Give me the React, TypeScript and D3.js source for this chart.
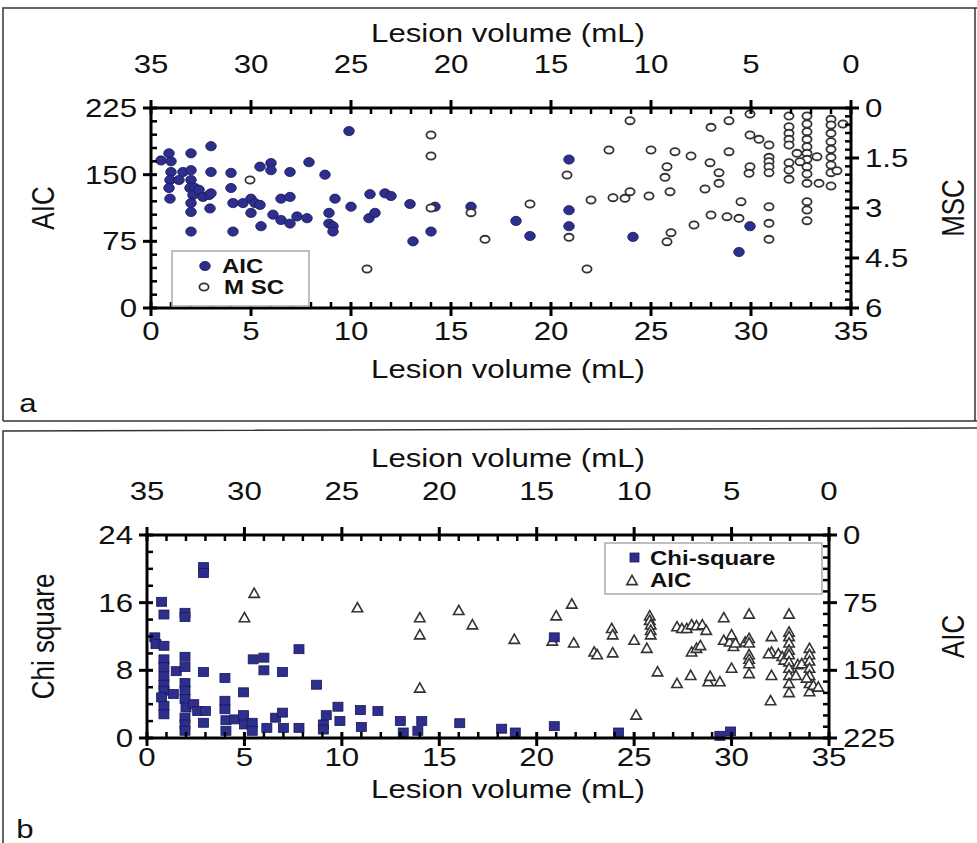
import React from "react";
import * as d3 from "d3";

// ---------- DATA ----------
const xTickVals = [0, 5, 10, 15, 20, 25, 30, 35];
const aTickLeft = [0, 75, 150, 225];
const aTickRight = [0, 1.5, 3, 4.5, 6];
const bTickLeft = [0, 8, 16, 24];
const bTickRight = [0, 75, 150, 225];

// Panel a: AIC (filled circles) [lesion volume, AIC]
const aAIC: [number, number][] = [
  [0.5,166],[0.9,174],[1.0,165],[1.0,153],[0.95,144],[0.9,135],[0.95,123],[1.4,144],[1.6,153],[2.0,174],
  [2.0,155],[2.0,144],[1.95,135],[2.2,135],[2.1,127],[2.0,118],[2.0,108],[2.0,86],[2.4,133],[2.6,125],
  [2.9,127],[3.0,182],[3.0,153],[3.0,129],[2.95,112],[4.0,152],[4.0,135],[4.1,118],[4.1,86],[4.6,118],
  [5.0,123],[5.0,107],[5.2,118],[5.45,116],[5.5,92],[5.45,159],[6.0,163],[6.0,155],[6.1,105],[6.5,123],
  [6.5,99],[6.95,125],[6.95,95],[6.95,153],[7.3,103],[7.8,101],[7.9,164],[8.7,150],[9.2,123],[8.9,107],
  [8.9,95],[9.1,92],[9.1,86],[9.9,199],[10.0,114],[10.9,101],[10.95,128],[11.2,107],[11.7,129],[12.0,126],
  [12.95,117],[14.2,114],[14.0,86],[13.1,75],[16.0,114],[18.25,98],[18.95,81],[20.9,167],[20.9,110],[20.9,92],
  [24.1,80],[29.95,92],[29.4,63],
];

// Panel a: MSC (open circles) [lesion volume, MSC]
const aMSC: [number, number][] = [
  [4.95,2.16],[10.8,4.83],[14.0,0.81],[14.0,1.44],[14.0,3.0],[16.0,3.14],[16.7,3.94],[18.95,2.88],[20.8,2.01],[20.9,3.88],
  [21.8,4.83],[22.0,2.76],[22.9,1.26],[23.1,2.69],[23.7,2.71],[23.95,2.51],[24.9,2.64],[23.95,0.38],[25.0,1.26],[25.8,1.76],
  [25.7,2.08],[25.95,2.51],[26.2,1.31],[27.0,1.44],[28.0,0.58],[27.95,1.64],[28.4,1.94],[28.4,2.26],[27.7,2.43],[28.9,0.38],
  [28.9,1.31],[29.95,0.18],[29.95,0.81],[30.4,0.94],[30.9,1.11],[29.95,1.76],[29.9,1.96],[29.5,2.81],[29.4,3.31],[28.8,3.26],
  [28.0,3.21],[27.15,3.51],[26.0,3.74],[25.8,4.01],[30.9,1.48],[30.9,1.61],[30.9,1.76],[30.9,1.94],[30.9,2.96],[30.9,3.46],
  [30.9,3.94],[31.9,0.24],[31.9,0.56],[31.9,0.76],[31.9,0.94],[31.9,1.11],[31.9,1.64],[31.9,1.86],[31.9,2.14],[32.3,1.36],
  [32.8,0.24],[32.8,0.48],[32.8,0.71],[32.8,0.94],[32.8,1.16],[32.8,1.36],[32.8,1.54],[32.8,1.76],[32.8,1.98],[32.8,2.26],
  [32.8,2.81],[32.8,3.06],[32.8,3.38],[32.45,1.61],[33.3,1.46],[33.4,2.26],[34.0,0.34],[34.0,0.51],[34.0,0.76],[34.0,1.01],
  [34.0,1.24],[34.0,1.48],[34.0,1.71],[34.0,1.94],[34.0,2.34],[34.3,1.88],[34.6,0.48],
];

// Panel b: Chi-square (filled squares) [lesion volume, chi square]
const bChi: [number, number][] = [
  [2.9,20.2],[2.9,19.5],[0.75,16.1],[0.87,14.6],[1.95,14.8],[1.95,14.3],[0.4,11.9],[0.46,11.1],[0.87,10.9],[0.87,9.3],
  [0.87,8.4],[0.87,7.3],[0.87,6.3],[0.87,5.6],[0.75,4.8],[0.87,3.8],[0.87,2.8],[1.35,5.2],[1.5,7.9],[1.95,9.6],
  [1.95,8.4],[1.95,6.5],[1.95,5.6],[1.95,4.6],[2.0,3.6],[1.95,2.4],[1.95,1.6],[1.95,0.85],[2.4,4.0],[2.6,3.2],
  [3.0,3.2],[2.9,1.8],[2.9,7.8],[4.0,7.1],[4.0,4.4],[4.0,3.4],[4.05,2.1],[4.05,0.85],[4.5,2.2],[4.95,5.4],
  [4.95,2.7],[5.0,1.6],[5.4,1.8],[5.4,0.85],[5.45,9.3],[6.0,9.5],[6.0,8.0],[6.15,1.2],[6.6,2.4],[6.95,7.8],
  [6.95,3.0],[7.0,1.2],[7.8,10.5],[7.8,1.2],[8.7,6.3],[9.05,1.6],[9.05,1.0],[9.2,2.7],[9.8,3.7],[9.9,2.0],
  [10.95,3.3],[11.0,1.3],[11.85,3.2],[13.0,2.0],[13.15,0.65],[13.9,0.85],[14.1,2.0],[16.05,1.75],[18.2,1.1],[18.9,0.65],
  [20.9,1.4],[20.9,11.9],[24.2,0.65],[29.4,0.26],[29.95,0.77],
];

// Panel b: AIC (open triangles) [lesion volume, AIC]
const bAIC: [number, number][] = [
  [5.5,64],[5.0,91],[10.8,80],[14.0,91],[14.0,110],[14.0,169],[16.0,83],[16.7,99],[18.85,115],[21.0,89],
  [21.8,76],[20.8,117],[21.9,119],[22.95,129],[23.1,132],[23.9,130],[23.85,103],[23.9,110],[25.0,116],[25.1,199],
  [25.65,125],[25.8,89],[25.8,94],[25.85,99],[25.85,105],[25.85,110],[26.2,151],[27.2,164],[27.2,101],[27.45,103],
  [27.7,103],[27.95,99],[28.2,100],[28.5,99],[28.7,105],[27.9,155],[27.95,129],[28.2,125],[28.4,122],[28.8,162],
  [28.9,156],[29.4,162],[29.6,91],[29.6,116],[29.9,118],[30.0,110],[30.1,123],[30.2,119],[30.0,147],[30.7,118],
  [30.9,114],[30.9,119],[30.9,132],[30.9,137],[30.9,142],[30.9,153],[30.9,87],[32.05,112],[32.05,129],[32.05,155],
  [32.0,183],[31.9,131],[32.4,131],[32.6,134],[32.7,138],[32.95,87],[32.95,107],[32.95,112],[32.95,119],[32.95,127],
  [32.95,132],[32.95,140],[32.95,147],[32.95,155],[32.95,164],[32.95,174],[33.3,155],[33.4,143],[33.6,142],[34.0,125],
  [34.0,132],[34.0,139],[34.0,147],[34.0,155],[34.0,164],[34.0,173],[34.2,166],[34.45,168],[33.85,158],
];

// ---------- STYLE ----------
const FONT = "'Liberation Sans', Arial, Helvetica, sans-serif";
const SX = 1.2;
const NAVY = "#2e2e8e";
const NAVY_DARK = "#1a1a55";

function Txt(props: {
  x: number; y: number; size?: number; anchor?: string; rot?: number; weight?: string | number; children: any; fill?: string;
}) {
  const { x, y, size = 26, anchor = "middle", rot = 0, weight = "normal", children, fill = "#111" } = props;
  return (
    <text
      transform={`translate(${x},${y}) scale(${SX},1) rotate(${rot})`}
      textAnchor={anchor}
      fontSize={size}
      fontFamily={FONT}
      fontWeight={weight}
      fill={fill}
    >
      {children}
    </text>
  );
}

function range(a: number, b: number, step: number) {
  const out: number[] = [];
  for (let v = a; v <= b + 1e-9; v += step) out.push(+v.toFixed(4));
  return out;
}

function Frame(props: {
  left: number; right: number; top: number; bottom: number;
  x: d3.ScaleLinear<number, number>; xTop: d3.ScaleLinear<number, number>;
  yL: d3.ScaleLinear<number, number>; yR: d3.ScaleLinear<number, number>;
  yLTicks: number[]; yLMinor: number; yRTicks: number[]; yRMinor: number; yRFmt: (v: number) => string;
  bottomLabelOffset: number;
}) {
  const { left, right, top, bottom, x, xTop, yL, yR, yLTicks, yLMinor, yRTicks, yRMinor, yRFmt, bottomLabelOffset } = props;
  const MO = 8, MI = 6, mi = 6;
  const els: any[] = [];
  const minorX = range(0, 35, 1).filter((v) => v % 5 !== 0);
  minorX.forEach((v, i) => {
    const px = x(v);
    els.push(<line key={"mxb" + i} x1={px} x2={px} y1={bottom} y2={bottom - mi} stroke="#000" strokeWidth={2.5} />);
    els.push(<line key={"mxt" + i} x1={px} x2={px} y1={top} y2={top + mi} stroke="#000" strokeWidth={2.5} />);
  });
  xTickVals.forEach((v, i) => {
    const px = x(v);
    els.push(<line key={"Mxb" + i} x1={px} x2={px} y1={bottom - MI} y2={bottom + MO} stroke="#000" strokeWidth={3} />);
    const pt = xTop(v);
    els.push(<line key={"Mxt" + i} x1={pt} x2={pt} y1={top + MI} y2={top - MO} stroke="#000" strokeWidth={3} />);
  });
  const dL = yL.domain();
  range(dL[0], dL[1], yLMinor).forEach((v, i) => {
    if (yLTicks.some((t) => Math.abs(t - v) < 1e-6)) return;
    const py = yL(v);
    els.push(<line key={"myl" + i} x1={left} x2={left + mi} y1={py} y2={py} stroke="#000" strokeWidth={2.5} />);
  });
  yLTicks.forEach((v, i) => {
    const py = yL(v);
    els.push(<line key={"Myl" + i} x1={left - MO} x2={left + MI} y1={py} y2={py} stroke="#000" strokeWidth={3} />);
  });
  const dR = yR.domain();
  range(dR[0], dR[1], yRMinor).forEach((v, i) => {
    if (yRTicks.some((t) => Math.abs(t - v) < 1e-6)) return;
    const py = yR(v);
    els.push(<line key={"myr" + i} x1={right} x2={right - mi} y1={py} y2={py} stroke="#000" strokeWidth={2.5} />);
  });
  yRTicks.forEach((v, i) => {
    const py = yR(v);
    els.push(<line key={"Myr" + i} x1={right + MO} x2={right - MI} y1={py} y2={py} stroke="#000" strokeWidth={3} />);
  });
  // axis lines
  els.push(<line key="ab" x1={left - 1.5} x2={right + 1.5} y1={bottom} y2={bottom} stroke="#000" strokeWidth={3} />);
  els.push(<line key="at" x1={left - 1.5} x2={right + 1.5} y1={top} y2={top} stroke="#000" strokeWidth={3} />);
  els.push(<line key="al" x1={left} x2={left} y1={top} y2={bottom} stroke="#000" strokeWidth={3} />);
  els.push(<line key="ar" x1={right} x2={right} y1={top} y2={bottom} stroke="#000" strokeWidth={3} />);
  // labels
  xTickVals.forEach((v, i) => {
    els.push(<Txt key={"lb" + i} x={x(v)} y={bottom + bottomLabelOffset}>{v}</Txt>);
    els.push(<Txt key={"lt" + i} x={xTop(v)} y={top - 35}>{v}</Txt>);
  });
  yLTicks.forEach((v, i) => {
    els.push(<Txt key={"ll" + i} x={left - 14} y={yL(v) + 9} anchor="end">{v}</Txt>);
  });
  yRTicks.forEach((v, i) => {
    els.push(<Txt key={"lr" + i} x={right + 14} y={yR(v) + 9} anchor="start">{yRFmt(v)}</Txt>);
  });
  return <g>{els}</g>;
}

function triPath(cx: number, cy: number) {
  const w = 5.2, h = 4.6;
  return `M${cx},${cy - h}L${cx + w},${cy + h}L${cx - w},${cy + h}Z`;
}

export default function App() {
  // Panel a geometry
  const aL = 151, aR = 851, aT = 108, aB = 308;
  const ax = d3.scaleLinear().domain([0, 35]).range([aL, aR]);
  const axTop = d3.scaleLinear().domain([35, 0]).range([aL, aR]);
  const ayL = d3.scaleLinear().domain([0, 225]).range([aB, aT]);
  const ayR = d3.scaleLinear().domain([0, 6]).range([aT, aB]);

  // Panel b geometry
  const bL = 147, bR = 829, bT = 535, bB = 738;
  const bx = d3.scaleLinear().domain([0, 35]).range([bL, bR]);
  const bxTop = d3.scaleLinear().domain([35, 0]).range([bL, bR]);
  const byL = d3.scaleLinear().domain([0, 24]).range([bB, bT]);
  const byR = d3.scaleLinear().domain([0, 225]).range([bT, bB]);

  return (
    <svg width={977} height={843} style={{ position: "absolute", left: 0, top: 0, background: "#fff" }}>
      <rect x={0} y={0} width={977} height={843} fill="#fff" />
      {/* outer frames */}
      <path d="M3,421 L3,8 L977,8" fill="none" stroke="#333" strokeWidth={1.5} />
      <line x1={3} x2={977} y1={421} y2={421} stroke="#333" strokeWidth={1.5} />
      <line x1={975} x2={975} y1={8} y2={421} stroke="#333" strokeWidth={1.5} />
      <path d="M3,843 L3,431 L977,428" fill="none" stroke="#333" strokeWidth={1.5} />

      {/* ----- Panel a ----- */}
      <Txt x={508} y={42}>Lesion volume (mL)</Txt>
      <Txt x={508} y={378}>Lesion volume (mL)</Txt>
      <Txt x={54} y={aT + 100} rot={-90}>AIC</Txt>
      <Txt x={964} y={aT + 100} rot={-90}>MSC</Txt>
      <Txt x={28} y={412} anchor="middle">a</Txt>

      {aAIC.map((d, i) => (
        <ellipse key={"aa" + i} cx={ax(d[0])} cy={ayL(d[1])} rx={5.3} ry={4.6} fill={NAVY} stroke={NAVY_DARK} strokeWidth={0.8} />
      ))}
      {aMSC.map((d, i) => (
        <ellipse key={"am" + i} cx={ax(d[0])} cy={ayR(d[1])} rx={4.6} ry={3.6} fill="#fff" stroke="#333" strokeWidth={1.8} />
      ))}

      <Frame left={aL} right={aR} top={aT} bottom={aB} x={ax} xTop={axTop} yL={ayL} yR={ayR}
        yLTicks={aTickLeft} yLMinor={15} yRTicks={aTickRight} yRMinor={0.25} yRFmt={(v) => String(v)}
        bottomLabelOffset={32} />

      {/* legend a */}
      <rect x={172} y={251} width={137} height={55} fill="#fff" stroke="#aaa" strokeWidth={1.5} />
      <ellipse cx={205} cy={266} rx={5.3} ry={4.6} fill={NAVY} stroke={NAVY_DARK} strokeWidth={0.8} />
      <Txt x={222} y={273} size={20} anchor="start" weight="bold">AIC</Txt>
      <ellipse cx={204} cy={287} rx={4.6} ry={3.6} fill="#fff" stroke="#333" strokeWidth={1.8} />
      <Txt x={224} y={294} size={20} anchor="start" weight="bold">M SC</Txt>

      {/* ----- Panel b ----- */}
      <Txt x={508} y={467}>Lesion volume (mL)</Txt>
      <Txt x={508} y={798}>Lesion volume (mL)</Txt>
      <Txt x={54} y={(bT + bB) / 2} rot={-90}>Chi square</Txt>
      <Txt x={964} y={(bT + bB) / 2} rot={-90}>AIC</Txt>
      <Txt x={25} y={838} anchor="middle">b</Txt>

      {bAIC.map((d, i) => (
        <path key={"ba" + i} d={triPath(bx(d[0]), byR(d[1]))} fill="#fff" stroke="#333" strokeWidth={1.6} />
      ))}
      {bChi.map((d, i) => (
        <rect key={"bc" + i} x={bx(d[0]) - 5} y={byL(d[1]) - 4.5} width={10} height={9} fill={NAVY} stroke={NAVY_DARK} strokeWidth={0.8} />
      ))}

      <Frame left={bL} right={bR} top={bT} bottom={bB} x={bx} xTop={bxTop} yL={byL} yR={byR}
        yLTicks={bTickLeft} yLMinor={2} yRTicks={bTickRight} yRMinor={12.5} yRFmt={(v) => String(v)}
        bottomLabelOffset={28} />

      {/* legend b */}
      <rect x={605} y={543} width={217} height={51} fill="#fff" stroke="#aaa" strokeWidth={1.5} />
      <rect x={630} y={553} width={9} height={9} fill={NAVY} stroke={NAVY_DARK} strokeWidth={0.8} />
      <Txt x={650} y={565} size={20} anchor="start" weight="bold">Chi-square</Txt>
      <path d={triPath(632, 580)} fill="#fff" stroke="#333" strokeWidth={1.6} />
      <Txt x={650} y={587} size={20} anchor="start" weight="bold">AIC</Txt>
    </svg>
  );
}
